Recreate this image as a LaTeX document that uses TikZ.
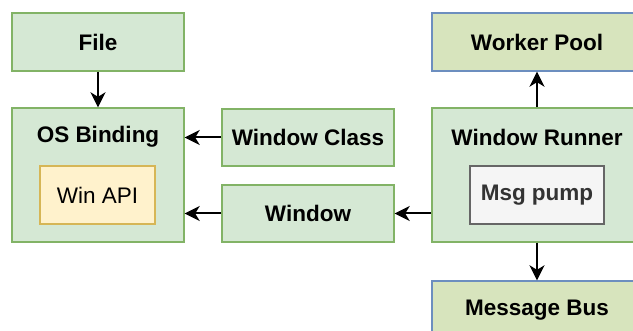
\documentclass[tikz,border=0pt]{standalone}
\usepackage{fontspec}
\setmainfont{Liberation Sans}
\usetikzlibrary{arrows.meta}
\definecolor{gfill}{HTML}{D5E8D4}
\definecolor{gline}{HTML}{82B366}
\definecolor{bfill}{HTML}{D7E4BD}
\definecolor{bline}{HTML}{6C8EBF}
\definecolor{yfill}{HTML}{FFF2CC}
\definecolor{yline}{HTML}{D6B656}
\definecolor{pfill}{HTML}{F5F5F5}
\definecolor{pline}{HTML}{666666}
\definecolor{ptext}{HTML}{333333}
\tikzset{
  box/.style={draw=gline, fill=gfill, line width=1.4pt, inner sep=0pt, font=\fontsize{22.5}{26}\selectfont\bfseries},
  bbox/.style={box, draw=bline, fill=bfill},
  ybox/.style={draw=yline, fill=yfill, line width=1.4pt, inner sep=0pt, font=\fontsize{22.5}{26}\selectfont},
  pbox/.style={draw=pline, fill=pfill, line width=1.4pt, inner sep=0pt, text=ptext, font=\fontsize{22.5}{26}\selectfont\bfseries},
  title/.style={inner sep=0pt, font=\fontsize{22.5}{26}\selectfont\bfseries},
  arr/.style={line width=2pt, -{Stealth[length=15pt,width=15pt,inset=4.5pt]}}
}
\begin{document}
\begin{tikzpicture}[x=1pt,y=-1pt]
\useasboundingbox (0,0) rectangle (633,331);
\clip (0,0) rectangle (633,331);
\node[box, minimum width=172pt, minimum height=58pt] (file) at (98,42) {File};
\node[box, minimum width=172pt, minimum height=134pt] (osb) at (98,175) {};
\node[title] (osbt) at (98,137) {OS Binding};
\node[ybox, minimum width=115pt, minimum height=58pt] (winapi) at (97.5,195) {Win API};
\node[box, minimum width=172pt, minimum height=57pt] (wc) at (308,137.5) {Window Class};
\node[box, minimum width=172pt, minimum height=57pt] (win) at (308,213.5) {Window};
\node[bbox, minimum width=210pt, minimum height=58pt] (wp) at (537,42) {Worker Pool};
\node[box, minimum width=210pt, minimum height=134pt] (wr) at (537,175) {};
\node[title] (wrt) at (537,137) {Window Runner};
\node[pbox, minimum width=134pt, minimum height=58pt] (mp) at (537,195) {Msg pump};
\node[bbox, minimum width=210pt, minimum height=58pt] (mb) at (537,310) {Message Bus};
\draw[arr] (file.south) -- (osb.north);
\draw[arr] (wc.west) -- (wc.west -| osb.east);
\draw[arr] (win.west) -- (win.west -| osb.east);
\draw[arr] (win.east -| wr.west) -- (win.east);
\draw[arr] (wr.north) -- (wp.south);
\draw[arr] (wr.south) -- (mb.north);
\end{tikzpicture}
\end{document}
